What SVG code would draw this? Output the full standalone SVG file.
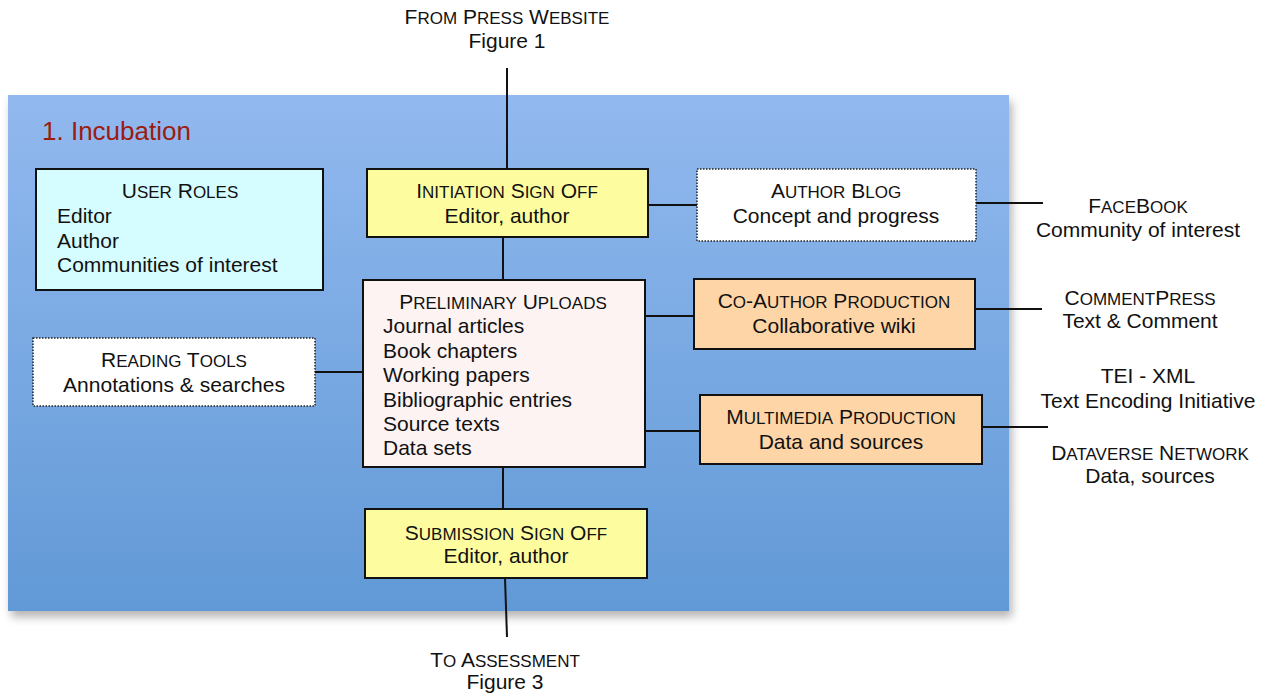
<svg xmlns="http://www.w3.org/2000/svg" width="1272" height="696" viewBox="0 0 1272 696">
<style>
text{font-family:"Liberation Sans",Arial,sans-serif;font-size:21px;fill:#111;}
.c{text-anchor:middle;}
.sc{font-size:17px;}
.box{stroke:#111;stroke-width:2;}
.dot{fill:#fff;stroke:#222;stroke-width:1.5;stroke-dasharray:1.5 1.5;}
.ln{stroke:#111;stroke-width:2;fill:none;}
</style>
<defs>
<linearGradient id="bg" x1="0" y1="0" x2="0" y2="1">
<stop offset="0" stop-color="#92b9ef"/>
<stop offset="1" stop-color="#6199d6"/>
</linearGradient>
<filter id="sh" x="-5%" y="-5%" width="110%" height="115%">
<feGaussianBlur in="SourceAlpha" stdDeviation="5"/>
<feOffset dx="3" dy="6" result="b"/>
<feComponentTransfer><feFuncA type="linear" slope="0.3"/></feComponentTransfer>
<feMerge><feMergeNode/><feMergeNode in="SourceGraphic"/></feMerge>
</filter>
</defs>
<rect width="1272" height="696" fill="#fff"/>
<rect id="panel" x="8" y="95" width="1001" height="516" fill="url(#bg)" filter="url(#sh)"/>
<text x="42" y="140" style="font-size:26px;fill:#9c1b10">1. Incubation</text>

<g id="connectors">
<line class="ln" x1="507" y1="68" x2="507" y2="169"/>
<line class="ln" x1="503" y1="237" x2="503" y2="280"/>
<line class="ln" x1="503" y1="467" x2="503" y2="509"/>
<line class="ln" x1="505" y1="578" x2="507" y2="637"/>
<line class="ln" x1="648" y1="205" x2="697" y2="205"/>
<line class="ln" x1="976" y1="203" x2="1043" y2="203"/>
<line class="ln" x1="645" y1="316" x2="694" y2="316"/>
<line class="ln" x1="975" y1="309" x2="1042" y2="309"/>
<line class="ln" x1="645" y1="431" x2="700" y2="431"/>
<line class="ln" x1="982" y1="427" x2="1048" y2="427"/>
<line class="ln" x1="315" y1="372" x2="363" y2="372"/>
</g>

<g id="from-press">
<text class="c" x="507" y="24">F<tspan class="sc">ROM</tspan> P<tspan class="sc">RESS</tspan> W<tspan class="sc">EBSITE</tspan></text>
<text class="c" x="507" y="48">Figure 1</text>
</g>

<g id="user-roles">
<rect class="box" x="36" y="169" width="287" height="121" fill="#d5fcfe"/>
<text class="c" x="180" y="198">U<tspan class="sc">SER</tspan> R<tspan class="sc">OLES</tspan></text>
<text x="57" y="223">Editor</text>
<text x="57" y="248">Author</text>
<text x="57" y="272">Communities of interest</text>
</g>

<g id="initiation">
<rect class="box" x="367" y="169" width="281" height="68" fill="#fdfd9f"/>
<text class="c" x="507" y="198">I<tspan class="sc">NITIATION</tspan> S<tspan class="sc">IGN</tspan> O<tspan class="sc">FF</tspan></text>
<text class="c" x="507" y="223">Editor, author</text>
</g>

<g id="author-blog">
<rect class="dot" x="697" y="169" width="279" height="72"/>
<text class="c" x="836" y="198">A<tspan class="sc">UTHOR</tspan> B<tspan class="sc">LOG</tspan></text>
<text class="c" x="836" y="223">Concept and progress</text>
</g>

<g id="facebook">
<text class="c" x="1138" y="213">F<tspan class="sc">ACE</tspan>B<tspan class="sc">OOK</tspan></text>
<text class="c" x="1138" y="237">Community of interest</text>
</g>

<g id="preliminary">
<rect class="box" x="363" y="280" width="282" height="187" fill="#fdf3f2"/>
<text class="c" x="503" y="309">P<tspan class="sc">RELIMINARY</tspan> U<tspan class="sc">PLOADS</tspan></text>
<text x="383" y="333">Journal articles</text>
<text x="383" y="358">Book chapters</text>
<text x="383" y="382">Working papers</text>
<text x="383" y="407">Bibliographic entries</text>
<text x="383" y="431">Source texts</text>
<text x="383" y="455">Data sets</text>
</g>

<g id="coauthor">
<rect class="box" x="694" y="279" width="281" height="70" fill="#fdd5a6"/>
<text class="c" x="834" y="308">C<tspan class="sc">O</tspan>-A<tspan class="sc">UTHOR</tspan> P<tspan class="sc">RODUCTION</tspan></text>
<text class="c" x="834" y="333">Collaborative wiki</text>
</g>

<g id="commentpress">
<text class="c" x="1140" y="305">C<tspan class="sc">OMMENT</tspan>P<tspan class="sc">RESS</tspan></text>
<text class="c" x="1140" y="328">Text &amp; Comment</text>
</g>

<g id="tei">
<text class="c" x="1148" y="383">TEI - XML</text>
<text class="c" x="1148" y="408">Text Encoding Initiative</text>
</g>

<g id="reading-tools">
<rect class="dot" x="33" y="338" width="282" height="68"/>
<text class="c" x="174" y="367">R<tspan class="sc">EADING</tspan> T<tspan class="sc">OOLS</tspan></text>
<text class="c" x="174" y="392">Annotations &amp; searches</text>
</g>

<g id="multimedia">
<rect class="box" x="700" y="395" width="282" height="69" fill="#fdd5a6"/>
<text class="c" x="841" y="424">M<tspan class="sc">ULTIMEDIA</tspan> P<tspan class="sc">RODUCTION</tspan></text>
<text class="c" x="841" y="449">Data and sources</text>
</g>

<g id="dataverse">
<text class="c" x="1150" y="460">D<tspan class="sc">ATAVERSE</tspan> N<tspan class="sc">ETWORK</tspan></text>
<text class="c" x="1150" y="483">Data, sources</text>
</g>

<g id="submission">
<rect class="box" x="365" y="509" width="282" height="69" fill="#fdfd9f"/>
<text class="c" x="506" y="540">S<tspan class="sc">UBMISSION</tspan> S<tspan class="sc">IGN</tspan> O<tspan class="sc">FF</tspan></text>
<text class="c" x="506" y="563">Editor, author</text>
</g>

<g id="to-assessment">
<text class="c" x="505" y="667">T<tspan class="sc">O</tspan> A<tspan class="sc">SSESSMENT</tspan></text>
<text class="c" x="505" y="689">Figure 3</text>
</g>
</svg>
